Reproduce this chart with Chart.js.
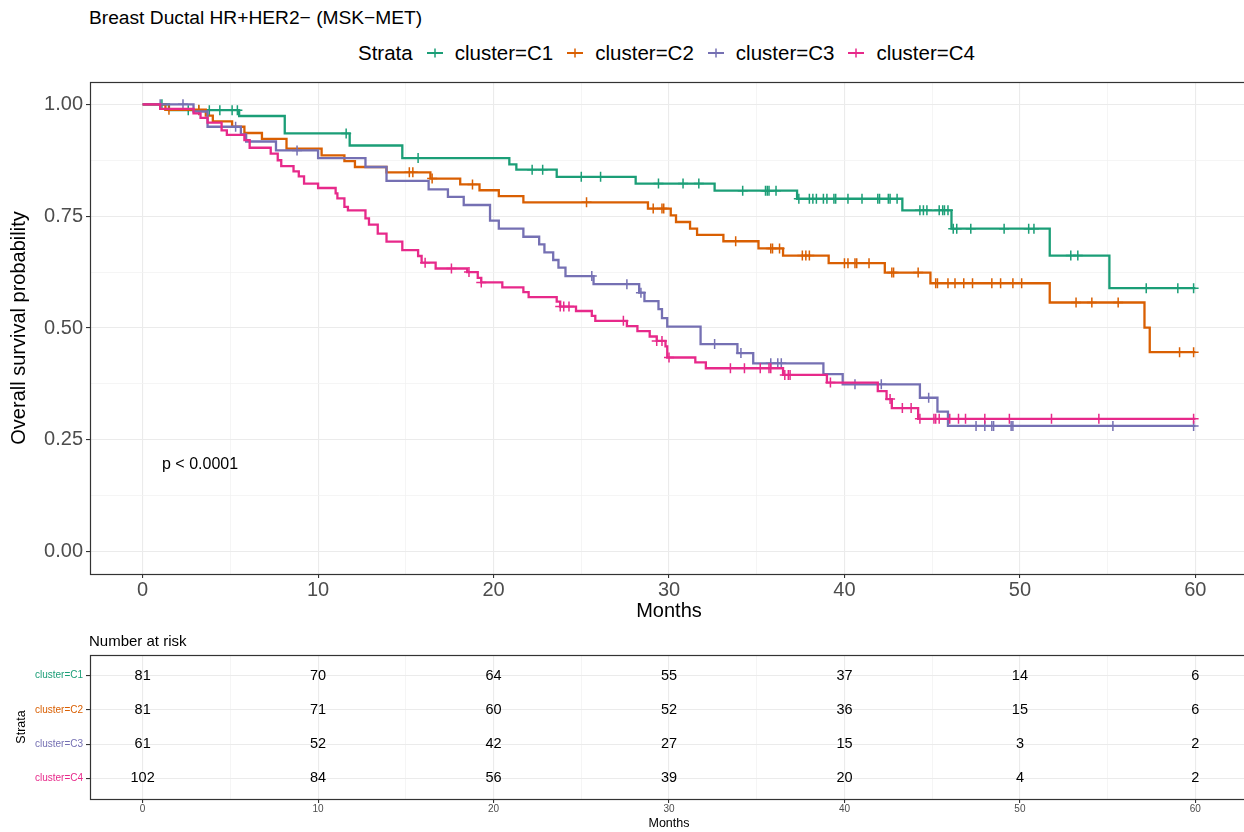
<!DOCTYPE html>
<html>
<head>
<meta charset="utf-8">
<script src="https://cdn.jsdelivr.net/npm/chart.js@4.4.0/dist/chart.umd.min.js"></script>
<style>
  html, body { margin: 0; padding: 0; background: #fff; overflow: hidden; width: 1244px; height: 832px; }
  body { position: relative; font-family: "Liberation Sans", Arial, Helvetica, sans-serif; color: #000; }
  canvas { position: absolute; left: 0; }
  #kmChart { top: 70px; }
  #riskChart { top: 632px; }
  .title { position: absolute; left: 89px; top: 6px; font-size: 19.2px; line-height: 24px; white-space: nowrap; }
  .legend { position: absolute; left: 358px; top: 41px; height: 24px; display: flex; align-items: center; font-size: 20.5px; line-height: 24px; white-space: nowrap; }
  .legend svg { display: block; }
  .legend .sym { margin-left: 14px; margin-right: 12px; }
  .pval { position: absolute; left: 162px; top: 454px; font-size: 16px; line-height: 20px; }
  .riskTitle { position: absolute; left: 89px; top: 632px; font-size: 15px; line-height: 18px; }
</style>
</head>
<body>
<div class="title">Breast Ductal HR+HER2− (MSK−MET)</div>
<div class="legend" id="legend"><span>Strata</span></div>
<canvas id="kmChart" width="1250" height="560"></canvas>
<div class="pval">p &lt; 0.0001</div>
<canvas id="riskChart" width="1250" height="200"></canvas>
<div class="riskTitle">Number at risk</div>

<script>
// strata
const strata = ["cluster=C1", "cluster=C2", "cluster=C3", "cluster=C4"];
const kmColors = ["#1B9E77", "#D95F02", "#7570B3", "#E7298A"];

// KM steps (time in months, survival after the step)
const c1Times = [0, 1.5, 5.5, 8.1, 11.8, 14.8, 20.9, 21.3, 23.6, 28.1, 32.6, 37.3, 43.3, 46.1, 51.7, 55.1, 60];
const c1Surv  = [1, 0.987, 0.974, 0.935, 0.908, 0.880, 0.866, 0.854, 0.838, 0.823, 0.807, 0.789, 0.763, 0.722, 0.662, 0.589, 0.589];
const c1Censor = [1.1, 2.6, 3.2, 3.8, 4.4, 5.1, 5.4, 11.6, 15.7, 22.2, 22.8, 25.0, 26.1, 29.4, 30.8, 31.7, 34.2, 35.5, 35.6, 35.7, 36.1,
  37.4, 38.0, 38.2, 38.4, 38.8, 39.0, 39.4, 39.5, 40.2, 41.0, 41.9, 42.0, 42.5, 42.6, 43.0, 44.3, 44.5, 44.7, 45.4, 45.6, 45.7, 45.9,
  46.2, 46.4, 47.2, 49.1, 50.5, 50.8, 52.9, 53.3, 57.2, 59.0, 59.9];

const c2Times = [0, 1.3, 3.6, 4.0, 5.1, 5.8, 6.8, 8.2, 10.2, 11.5, 12.1, 13.9, 16.4, 18.1, 19.2, 20.3, 21.7, 28.8, 30.1, 30.4,
  31.2, 31.6, 33.1, 35.1, 36.5, 39.1, 42.3, 44.9, 51.7, 57.1, 57.4, 60];
const c2Surv  = [1, 0.988, 0.975, 0.962, 0.950, 0.936, 0.923, 0.901, 0.886, 0.873, 0.860, 0.848, 0.834, 0.821, 0.808, 0.795, 0.781, 0.767, 0.752, 0.737,
  0.722, 0.708, 0.694, 0.678, 0.662, 0.645, 0.624, 0.600, 0.557, 0.501, 0.446, 0.446];
const c2Censor = [1.5, 3.2, 15.2, 15.4, 16.5, 18.8, 25.3, 29.1, 29.6, 29.7, 33.8, 35.8, 35.9, 36.3, 37.6, 37.8, 38.0, 40.0, 40.2, 40.6,
  40.7, 41.4, 42.7, 42.8, 44.2, 45.2, 45.3, 45.9, 46.3, 46.8, 47.3, 48.4, 48.9, 49.6, 50.1, 53.2, 54.1, 55.6, 59.1, 59.9];

const c3Times = [0, 2.9, 3.7, 5.6, 5.9, 7.6, 10.0, 12.7, 13.9, 16.3, 17.4, 18.3, 19.8, 20.3, 21.7, 22.6, 22.9, 23.4, 23.7, 24.1,
  25.7, 28.3, 28.6, 29.4, 29.6, 29.9, 31.8, 33.9, 34.8, 38.8, 39.9, 44.3, 45.3, 45.9, 60];
const c3Surv  = [1, 0.984, 0.950, 0.933, 0.917, 0.897, 0.880, 0.860, 0.829, 0.810, 0.793, 0.775, 0.740, 0.722, 0.704, 0.687, 0.669, 0.652, 0.635, 0.616,
  0.598, 0.579, 0.560, 0.542, 0.522, 0.503, 0.464, 0.444, 0.421, 0.397, 0.374, 0.344, 0.313, 0.281, 0.281];
const c3Censor = [1.0, 2.3, 5.3, 8.8, 25.6, 27.6, 28.4, 32.6, 34.1, 35.8, 36.2, 36.4, 40.6, 42.1, 44.8, 47.5, 48.0, 48.4, 48.5, 49.5,
  49.6, 55.3, 59.9];

const c4Times = [0, 1.0, 2.9, 3.3, 3.7, 4.5, 4.8, 5.8, 6.1, 7.3, 7.7, 7.9, 8.6, 8.9, 9.2, 10.0, 11.0, 11.1, 11.5, 11.7,
  12.7, 12.9, 13.4, 13.9, 14.8, 15.7, 15.9, 16.7, 18.5, 19.1, 19.3, 20.5, 21.7, 22.0, 23.6, 23.8, 24.7, 25.6, 25.8, 27.6,
  28.2, 28.9, 29.3, 29.8, 29.9, 31.5, 32.1, 36.5, 39.0, 41.9, 42.4, 42.7, 44.2, 60];
const c4Surv  = [1, 0.990, 0.980, 0.970, 0.959, 0.942, 0.932, 0.920, 0.903, 0.890, 0.875, 0.862, 0.850, 0.839, 0.823, 0.813, 0.801, 0.790, 0.771, 0.763,
  0.745, 0.731, 0.711, 0.693, 0.674, 0.661, 0.646, 0.633, 0.625, 0.612, 0.602, 0.591, 0.580, 0.569, 0.559, 0.548, 0.538, 0.527, 0.516, 0.504,
  0.493, 0.481, 0.471, 0.459, 0.434, 0.423, 0.410, 0.395, 0.378, 0.359, 0.341, 0.321, 0.297, 0.297];
const c4Censor = [16.1, 17.6, 18.6, 19.3, 23.8, 24.0, 24.3, 27.4, 29.3, 29.6, 30.0, 33.5, 34.3, 35.2, 35.7, 35.8, 36.6, 36.8, 36.9, 39.2,
  42.6, 43.3, 43.8, 44.3, 45.1, 45.2, 45.4, 46.0, 46.5, 46.9, 48.0, 49.4, 51.8, 54.5, 59.9];

// axes
const monthTicks = [0, 10, 20, 30, 40, 50, 60];
const survTicks = [0, 0.25, 0.5, 0.75, 1];

// number at risk table
const riskTimes = [0, 10, 20, 30, 40, 50, 60];
const riskC1 = [81, 70, 64, 55, 37, 14, 6];
const riskC2 = [81, 71, 60, 52, 36, 15, 6];
const riskC3 = [61, 52, 42, 27, 15, 3, 2];
const riskC4 = [102, 84, 56, 39, 20, 4, 2];

Chart.defaults.font.family = '"Liberation Sans", Arial, Helvetica, sans-serif';
Chart.defaults.animation = false;

const X_MIN = -3, X_MAX = 63;

const curves = [
  { times: c1Times, surv: c1Surv, censor: c1Censor },
  { times: c2Times, surv: c2Surv, censor: c2Censor },
  { times: c3Times, surv: c3Surv, censor: c3Censor },
  { times: c4Times, surv: c4Surv, censor: c4Censor }
];
const riskRows = [riskC1, riskC2, riskC3, riskC4];

function survAt(times, surv, t) {
  let s = surv[0];
  for (let i = 0; i < times.length; i++) if (times[i] <= t) s = surv[i];
  return s;
}

function withMinor(major) {
  const out = [];
  major.forEach((v, i) => {
    out.push(v);
    if (i < major.length - 1) out.push((v + major[i + 1]) / 2);
  });
  return out;
}
const isMajor = (list, v) => list.some(m => Math.abs(m - v) < 1e-9);
const inside = (list, v) => v >= list[0] - 1e-9 && v <= list[list.length - 1] + 1e-9;

// blank ticks on the axis ends keep chart.js from reserving room for the end labels
const monthGridTicks = () => [X_MIN, ...withMinor(monthTicks), X_MAX].map(v => ({ value: v }));

function noLabelPadding(s) {
  s.paddingLeft = 0; s.paddingRight = 0; s.paddingTop = 0; s.paddingBottom = 0;
}

// legend (html)
const legend = document.getElementById("legend");
strata.forEach((name, i) => {
  const sym = document.createElementNS("http://www.w3.org/2000/svg", "svg");
  sym.setAttribute("width", "16");
  sym.setAttribute("height", "14");
  sym.setAttribute("class", "sym");
  sym.innerHTML = `<line x1="0" y1="7" x2="16" y2="7" stroke="${kmColors[i]}" stroke-width="2"/>` +
    `<line x1="8" y1="2.5" x2="8" y2="11.5" stroke="${kmColors[i]}" stroke-width="1.5"/>`;
  legend.appendChild(sym);
  const lab = document.createElement("span");
  lab.textContent = name;
  legend.appendChild(lab);
});

// panel border like ggplot theme_bw
const panelBorder = {
  id: "panelBorder",
  afterDraw(chart) {
    const a = chart.chartArea, ctx = chart.ctx;
    ctx.save();
    ctx.strokeStyle = "#333333";
    ctx.lineWidth = 1.2;
    ctx.strokeRect(Math.round(a.left) + 0.5, Math.round(a.top) + 0.5, Math.round(a.right - a.left), Math.round(a.bottom - a.top));
    ctx.restore();
  }
};

const kmDatasets = [];
curves.forEach((c, i) => {
  kmDatasets.push({
    label: strata[i],
    data: c.times.map((t, k) => ({ x: t, y: c.surv[k] })),
    showLine: true,
    stepped: "before",
    borderColor: kmColors[i],
    borderWidth: 2.3,
    pointRadius: 0,
    fill: false,
    order: 10 - i
  });
  kmDatasets.push({
    label: strata[i] + " censored",
    data: c.censor.map(t => ({ x: t, y: survAt(c.times, c.surv, t) })),
    pointStyle: "cross",
    pointRadius: 5,
    borderWidth: 1.5,
    borderColor: kmColors[i],
    backgroundColor: kmColors[i],
    order: 10 - i
  });
});

const xGrid = {
  color: ctx => !inside(monthTicks, ctx.tick.value) ? "rgba(0,0,0,0)" : isMajor(monthTicks, ctx.tick.value) ? "#ebebeb" : "#f3f3f3",
  lineWidth: ctx => isMajor(monthTicks, ctx.tick.value) ? 1.1 : 0.8,
  tickColor: ctx => isMajor(monthTicks, ctx.tick.value) ? "#333333" : "rgba(0,0,0,0)",
  tickWidth: 1.1,
  tickLength: 4
};

new Chart(document.getElementById("kmChart"), {
  type: "scatter",
  data: { datasets: kmDatasets },
  options: {
    responsive: false,
    devicePixelRatio: 1,
    layout: { autoPadding: false, padding: { top: 12, right: 2, left: 0, bottom: 0 } },
    plugins: { legend: { display: false }, tooltip: { enabled: false } },
    scales: {
      x: {
        type: "linear", min: X_MIN, max: X_MAX,
        afterBuildTicks: s => { s.ticks = monthGridTicks(); },
        afterFit: s => { s.height = 56; noLabelPadding(s); },
        ticks: {
          autoSkip: false, maxRotation: 0, padding: 0, color: "#4d4d4d", font: { size: 20 },
          callback: v => isMajor(monthTicks, v) ? String(v) : ""
        },
        grid: xGrid,
        border: { display: false },
        title: { display: true, text: "Months", color: "#000", font: { size: 20 }, padding: { top: 0, bottom: 7 } }
      },
      y: {
        type: "linear", min: -0.05, max: 1.05,
        afterBuildTicks: s => { s.ticks = withMinor(survTicks).map(v => ({ value: v })); },
        afterFit: s => { s.width = 90; noLabelPadding(s); },
        ticks: {
          autoSkip: false, padding: 3, color: "#4d4d4d", font: { size: 20 },
          callback: v => isMajor(survTicks, v) ? v.toFixed(2) : ""
        },
        grid: {
          color: ctx => isMajor(survTicks, ctx.tick.value) ? "#ebebeb" : "#f3f3f3",
          lineWidth: ctx => isMajor(survTicks, ctx.tick.value) ? 1.1 : 0.8,
          tickColor: ctx => isMajor(survTicks, ctx.tick.value) ? "#333333" : "rgba(0,0,0,0)",
          tickWidth: 1.1,
          tickLength: 4
        },
        border: { display: false },
        title: { display: true, text: "Overall survival probability", color: "#000", font: { size: 20 }, padding: { top: 7, bottom: 0 } }
      }
    }
  },
  plugins: [panelBorder]
});

// risk table: one invisible point per cell, label drawn at the point
const riskDatasets = riskRows.map((row, i) => ({
  label: strata[i],
  data: row.map((n, j) => ({ x: riskTimes[j], y: strata.length - i, n: n })),
  pointRadius: 0
}));

const riskLabels = {
  id: "riskLabels",
  afterDatasetsDraw(chart) {
    const ctx = chart.ctx;
    ctx.save();
    ctx.fillStyle = "#000";
    ctx.font = '14.5px "Liberation Sans", Arial, sans-serif';
    ctx.textAlign = "center";
    ctx.textBaseline = "middle";
    chart.data.datasets.forEach((ds, i) => {
      chart.getDatasetMeta(i).data.forEach((pt, j) => {
        ctx.fillText(String(ds.data[j].n), pt.x, pt.y);
      });
    });
    ctx.restore();
  }
};

new Chart(document.getElementById("riskChart"), {
  type: "scatter",
  data: { datasets: riskDatasets },
  options: {
    responsive: false,
    devicePixelRatio: 1,
    layout: { autoPadding: false, padding: { top: 23, right: 2, left: 0, bottom: 0 } },
    plugins: { legend: { display: false }, tooltip: { enabled: false } },
    scales: {
      x: {
        type: "linear", min: X_MIN, max: X_MAX,
        afterBuildTicks: s => { s.ticks = monthGridTicks(); },
        afterFit: s => { s.height = 33; noLabelPadding(s); },
        ticks: {
          autoSkip: false, maxRotation: 0, padding: 0, color: "#4d4d4d", font: { size: 10 },
          callback: v => isMajor(monthTicks, v) ? String(v) : ""
        },
        grid: xGrid,
        border: { display: false },
        title: { display: true, text: "Months", color: "#000", font: { size: 12.5 }, padding: { top: 0, bottom: 1 } }
      },
      y: {
        type: "linear", min: 0.4, max: 4.6,
        afterBuildTicks: s => { s.ticks = strata.map((_, i) => ({ value: strata.length - i })); },
        afterFit: s => { s.width = 90; noLabelPadding(s); },
        ticks: {
          autoSkip: false, padding: 3, font: { size: 10 },
          color: ctx => kmColors[strata.length - ctx.tick.value],
          callback: v => strata[strata.length - v]
        },
        grid: { color: "#ebebeb", lineWidth: 1.1, tickColor: "#333333", tickLength: 4 },
        border: { display: false },
        title: { display: true, text: "Strata", color: "#000", font: { size: 12.5 }, padding: { top: 14, bottom: 0 } }
      }
    }
  },
  plugins: [riskLabels, panelBorder]
});
</script>
</body>
</html>
